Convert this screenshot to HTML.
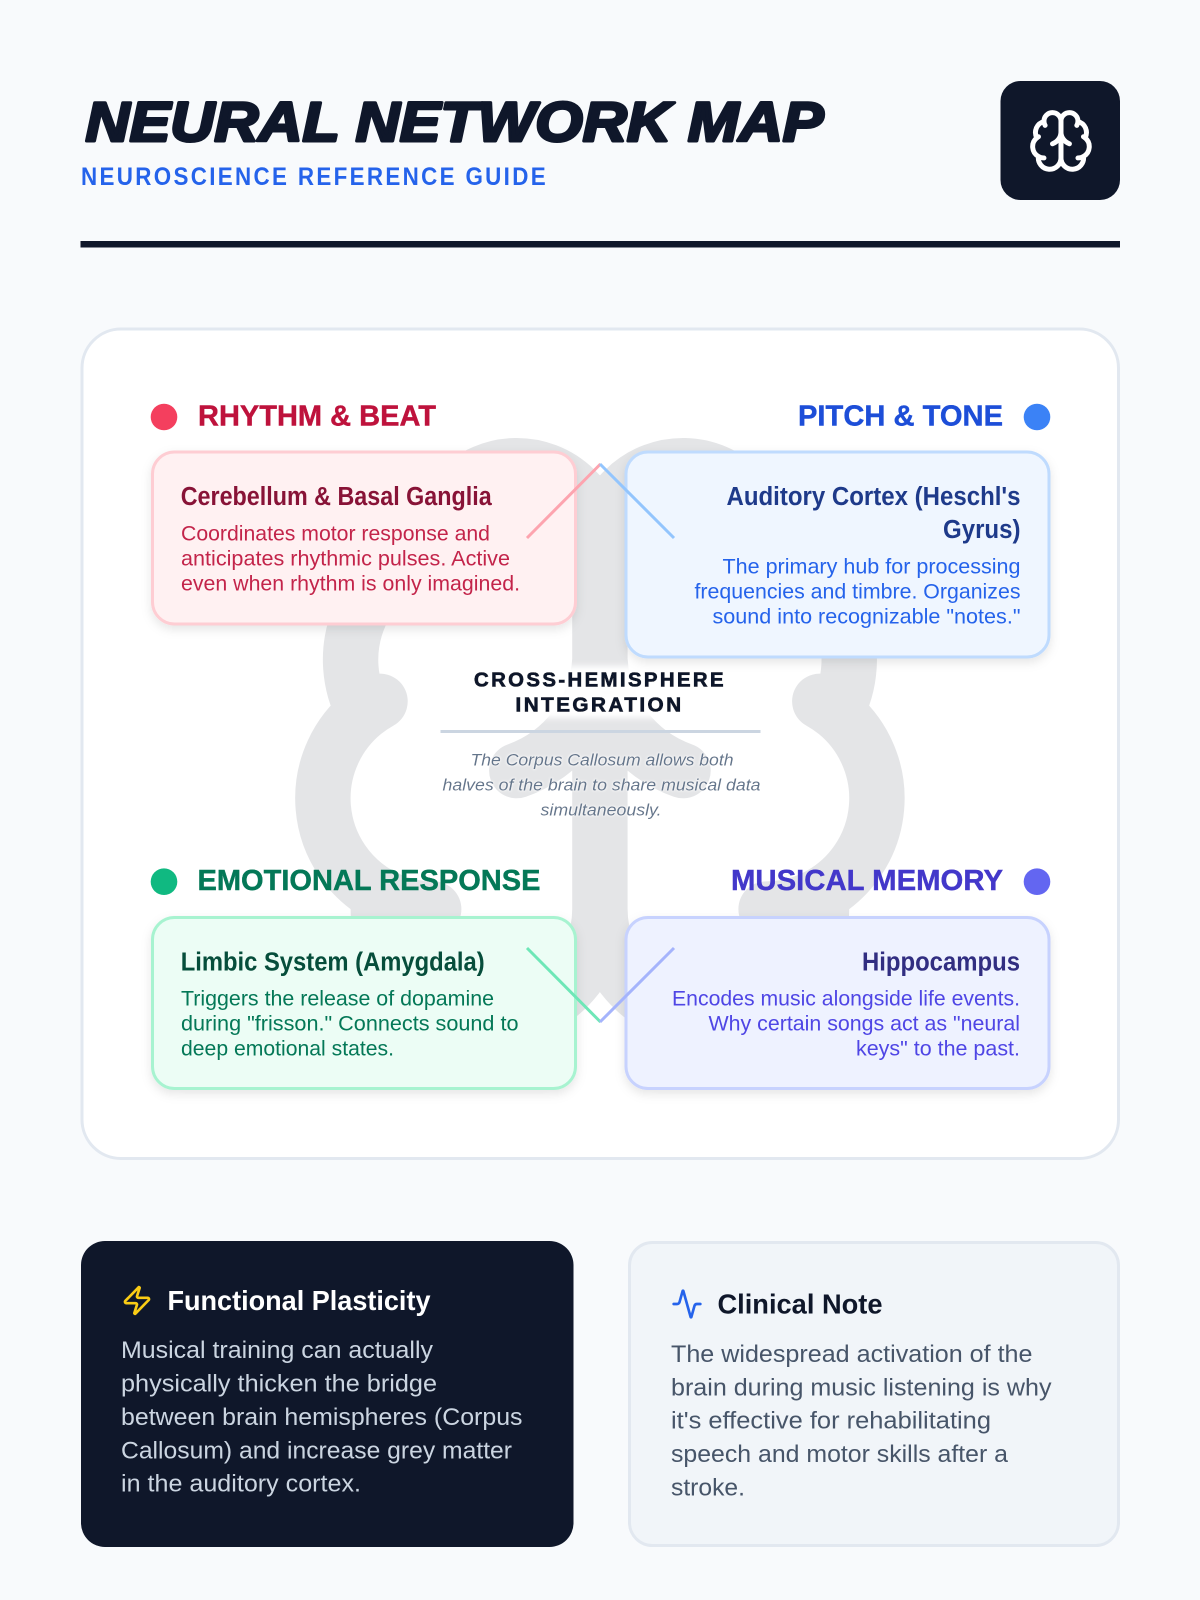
<!DOCTYPE html>
<html><head><meta charset="utf-8"><style>
html,body{margin:0;padding:0;background:#f8fafc;width:1200px;height:1600px;overflow:hidden}
svg{display:block}
text{font-family:"Liberation Sans",sans-serif;white-space:pre}
.h{font-weight:700;font-size:29px;stroke-width:.4px}
.t{font-weight:700;font-size:25.5px}
.b{font-size:21.5px}
.c{font-weight:700;font-size:20.5px;letter-spacing:2.4px;fill:#0f172a;stroke:#0f172a;stroke-width:.8px}
.i{font-style:italic;font-size:17px;fill:#64748b}
.n{font-size:24.5px}
.ln{font-weight:700;font-size:27.5px}
</style></head><body>
<svg xmlns="http://www.w3.org/2000/svg" width="1200" height="1600" viewBox="0 0 1200 1600">
<defs>
<filter id="s" x="-10%" y="-10%" width="120%" height="125%"><feDropShadow dx="0" dy="4" stdDeviation="5" flood-color="#000" flood-opacity=".1"/></filter>
<filter id="halo" x="-10%" y="-60%" width="120%" height="220%">
<feMorphology in="SourceAlpha" operator="dilate" radius="4" result="d"/>
<feGaussianBlur in="d" stdDeviation="4" result="b"/>
<feFlood flood-color="#fff"/><feComposite in2="b" operator="in" result="w"/>
<feMerge><feMergeNode in="w"/><feMergeNode in="w"/><feMergeNode in="SourceGraphic"/></feMerge>
</filter>
<filter id="halo2" x="-5%" y="-40%" width="110%" height="180%">
<feMorphology in="SourceAlpha" operator="dilate" radius=".6" result="d"/>
<feGaussianBlur in="d" stdDeviation="1" result="b"/>
<feFlood flood-color="#fff" flood-opacity=".8"/><feComposite in2="b" operator="in" result="w"/>
<feMerge><feMergeNode in="w"/><feMergeNode in="SourceGraphic"/></feMerge>
</filter>
</defs>
<rect width="1200" height="1600" fill="#f8fafc"/>

<!-- header -->
<text x="85.5" y="140.8" textLength="738" lengthAdjust="spacingAndGlyphs" font-size="56" font-weight="700" font-style="italic" fill="#0f172a" stroke="#0f172a" stroke-width="3" stroke-linejoin="round">NEURAL NETWORK MAP</text>
<text x="81" y="185" textLength="467" lengthAdjust="spacingAndGlyphs" font-size="25" font-weight="700" letter-spacing="2.6" fill="#2563eb">NEUROSCIENCE REFERENCE GUIDE</text>
<rect x="1000.5" y="81" width="119.5" height="119" rx="20" fill="#0f172a"/>
<g transform="translate(1027 107) scale(2.83)" fill="none" stroke="#fff" stroke-width="1.75" stroke-linecap="round" stroke-linejoin="round">
<path d="M12 5a3 3 0 1 0-5.997.125 4 4 0 0 0-2.526 5.77 4 4 0 0 0 .556 6.588A4 4 0 1 0 12 18Z"/><path d="M12 5a3 3 0 1 1 5.997.125 4 4 0 0 1 2.526 5.77 4 4 0 0 1-.556 6.588A4 4 0 1 1 12 18Z"/><path d="M15 13a4.5 4.5 0 0 1-3-4 4.5 4.5 0 0 1-3 4"/><path d="M17.599 6.5a3 3 0 0 0 .399-1.375"/><path d="M6.003 5.125A3 3 0 0 0 6.401 6.5"/><path d="M3.477 10.896a4 4 0 0 1 .585-.396"/><path d="M19.938 10.5a4 4 0 0 1 .585.396"/><path d="M6 18a4 4 0 0 1-1.967-.516"/><path d="M19.967 17.484A4 4 0 0 1 18 18"/>
</g>
<rect x="80.5" y="241" width="1039.5" height="6.5" fill="#0f172a"/>

<!-- main card -->
<rect x="82" y="329" width="1036.5" height="829.5" rx="39" fill="#fff" stroke="#e2e8f0" stroke-width="3"/>

<!-- background brain -->
<g transform="translate(267.5 410.5) scale(27.7)" opacity=".115" fill="none" stroke="#0f172a" stroke-width="2" stroke-linecap="round" stroke-linejoin="round">
<path d="M12 5a3 3 0 1 0-5.997.125 4 4 0 0 0-2.526 5.77 4 4 0 0 0 .556 6.588A4 4 0 1 0 12 18Z M12 5a3 3 0 1 1 5.997.125 4 4 0 0 1 2.526 5.77 4 4 0 0 1-.556 6.588A4 4 0 1 1 12 18Z M15 13a4.5 4.5 0 0 1-3-4 4.5 4.5 0 0 1-3 4 M17.599 6.5a3 3 0 0 0 .399-1.375 M6.003 5.125A3 3 0 0 0 6.401 6.5 M3.477 10.896a4 4 0 0 1 .585-.396 M19.938 10.5a4 4 0 0 1 .585.396 M6 18a4 4 0 0 1-1.967-.516 M19.967 17.484A4 4 0 0 1 18 18"/>
</g>

<!-- center text -->
<g filter="url(#halo)">
<text class="c" x="474" y="686.5" textLength="252" lengthAdjust="spacingAndGlyphs">CROSS-HEMISPHERE</text>
<text class="c" x="515.5" y="711.5" textLength="168" lengthAdjust="spacingAndGlyphs">INTEGRATION</text>
</g>
<rect x="440.5" y="730" width="320" height="3" fill="#cbd5e1"/>
<g filter="url(#halo2)">
<text class="i" x="470.5" y="765.5" textLength="263" lengthAdjust="spacingAndGlyphs">The Corpus Callosum allows both</text>
<text class="i" x="442.5" y="790.5" textLength="318" lengthAdjust="spacingAndGlyphs">halves of the brain to share musical data</text>
<text class="i" x="540.5" y="815.5" textLength="121" lengthAdjust="spacingAndGlyphs">simultaneously.</text>
</g>

<!-- headings -->
<circle cx="164" cy="417" r="13.3" fill="#f43f5e"/>
<text class="h" x="198" y="425.5" textLength="238" lengthAdjust="spacingAndGlyphs" fill="#be123c" stroke="#be123c">RHYTHM &amp; BEAT</text>
<circle cx="1037" cy="417" r="13.3" fill="#3b82f6"/>
<text class="h" x="798" y="425.5" textLength="205" lengthAdjust="spacingAndGlyphs" fill="#1d4ed8" stroke="#1d4ed8">PITCH &amp; TONE</text>
<circle cx="164" cy="881.7" r="13.3" fill="#10b981"/>
<text class="h" x="197.5" y="890" textLength="343" lengthAdjust="spacingAndGlyphs" fill="#047857" stroke="#047857">EMOTIONAL RESPONSE</text>
<circle cx="1037" cy="881.7" r="13.3" fill="#6366f1"/>
<text class="h" x="731" y="890" textLength="272" lengthAdjust="spacingAndGlyphs" fill="#4338ca" stroke="#4338ca">MUSICAL MEMORY</text>

<!-- cards -->
<rect x="152.5" y="452" width="423" height="172" rx="22" fill="#fff1f2" stroke="#fecdd3" stroke-width="3" filter="url(#s)"/>
<text class="t" x="180.7" y="505" textLength="311" lengthAdjust="spacingAndGlyphs" fill="#881337">Cerebellum &amp; Basal Ganglia</text>
<g fill="#be123c" fill-opacity=".92">
<text class="b" x="181" y="540.5" textLength="309" lengthAdjust="spacingAndGlyphs">Coordinates motor response and</text>
<text class="b" x="181" y="565.5" textLength="329" lengthAdjust="spacingAndGlyphs">anticipates rhythmic pulses. Active</text>
<text class="b" x="181" y="590.5" textLength="339" lengthAdjust="spacingAndGlyphs">even when rhythm is only imagined.</text>
</g>

<rect x="626" y="452" width="423" height="205" rx="22" fill="#eff6ff" stroke="#bfdbfe" stroke-width="3" filter="url(#s)"/>
<text class="t" x="726.5" y="505" textLength="294" lengthAdjust="spacingAndGlyphs" fill="#1e3a8a">Auditory Cortex (Heschl's</text>
<text class="t" x="943" y="538" textLength="77.5" lengthAdjust="spacingAndGlyphs" fill="#1e3a8a">Gyrus)</text>
<g fill="#2563eb">
<text class="b" x="722.5" y="573.5" textLength="298" lengthAdjust="spacingAndGlyphs">The primary hub for processing</text>
<text class="b" x="694.5" y="598.5" textLength="326" lengthAdjust="spacingAndGlyphs">frequencies and timbre. Organizes</text>
<text class="b" x="712.5" y="623.5" textLength="308" lengthAdjust="spacingAndGlyphs">sound into recognizable "notes."</text>
</g>

<rect x="152.5" y="917.5" width="423" height="171" rx="22" fill="#ecfdf5" stroke="#a7f3d0" stroke-width="3" filter="url(#s)"/>
<text class="t" x="180.7" y="970.7" textLength="304" lengthAdjust="spacingAndGlyphs" fill="#064e3b">Limbic System (Amygdala)</text>
<g fill="#047857">
<text class="b" x="181" y="1005.7" textLength="313" lengthAdjust="spacingAndGlyphs">Triggers the release of dopamine</text>
<text class="b" x="181" y="1030.7" textLength="337.5" lengthAdjust="spacingAndGlyphs">during "frisson." Connects sound to</text>
<text class="b" x="181" y="1055.7" textLength="213" lengthAdjust="spacingAndGlyphs">deep emotional states.</text>
</g>

<rect x="626" y="917.5" width="423" height="171" rx="22" fill="#eef2ff" stroke="#c7d2fe" stroke-width="3" filter="url(#s)"/>
<text class="t" x="862" y="970.7" textLength="158" lengthAdjust="spacingAndGlyphs" fill="#312e81">Hippocampus</text>
<g fill="#4f46e5">
<text class="b" x="672" y="1005.7" textLength="348" lengthAdjust="spacingAndGlyphs">Encodes music alongside life events.</text>
<text class="b" x="708.5" y="1030.7" textLength="311.5" lengthAdjust="spacingAndGlyphs">Why certain songs act as "neural</text>
<text class="b" x="856" y="1055.7" textLength="164" lengthAdjust="spacingAndGlyphs">keys" to the past.</text>
</g>

<!-- connectors -->
<g fill="none" stroke-width="3">
<line x1="527" y1="538" x2="600.5" y2="464" stroke="#fda4af"/>
<line x1="600" y1="464" x2="674" y2="538" stroke="#93c5fd"/>
<line x1="527" y1="948" x2="600.5" y2="1022" stroke="#6ee7b7"/>
<line x1="600" y1="1022" x2="674" y2="948" stroke="#a5b4fc"/>
</g>

<!-- bottom cards -->
<rect x="81" y="1241" width="492.5" height="306" rx="24" fill="#0f172a"/>
<g transform="translate(121 1284.5) scale(1.333)" fill="none" stroke="#facc15" stroke-width="2" stroke-linecap="round" stroke-linejoin="round">
<path d="M4 14a1 1 0 0 1-.78-1.63l9.9-10.2a.5.5 0 0 1 .86.46l-1.92 6.02A1 1 0 0 0 13 10h7a1 1 0 0 1 .78 1.63l-9.9 10.2a.5.5 0 0 1-.86-.46l1.92-6.02A1 1 0 0 0 11 14z"/>
</g>
<text class="ln" x="167.5" y="1310" textLength="263" lengthAdjust="spacingAndGlyphs" fill="#fff">Functional Plasticity</text>
<g fill="#cbd5e1">
<text class="n" x="121" y="1358" textLength="312" lengthAdjust="spacingAndGlyphs">Musical training can actually</text>
<text class="n" x="121" y="1391.5" textLength="316" lengthAdjust="spacingAndGlyphs">physically thicken the bridge</text>
<text class="n" x="121" y="1425" textLength="401.5" lengthAdjust="spacingAndGlyphs">between brain hemispheres (Corpus</text>
<text class="n" x="121" y="1458.3" textLength="391" lengthAdjust="spacingAndGlyphs">Callosum) and increase grey matter</text>
<text class="n" x="121" y="1491.7" textLength="240" lengthAdjust="spacingAndGlyphs">in the auditory cortex.</text>
</g>

<rect x="629.5" y="1242.5" width="489" height="303" rx="23" fill="#f1f5f9" stroke="#e2e8f0" stroke-width="3"/>
<g transform="translate(671 1288) scale(1.333)" fill="none" stroke="#2563eb" stroke-width="2" stroke-linecap="round" stroke-linejoin="round">
<path d="M22 12h-2.48a2 2 0 0 0-1.93 1.46l-2.35 8.36a.25.25 0 0 1-.48 0L9.24 2.18a.25.25 0 0 0-.48 0l-2.35 8.36A2 2 0 0 1 4.49 12H2"/>
</g>
<text class="ln" x="717.5" y="1313.5" textLength="165" lengthAdjust="spacingAndGlyphs" fill="#0f172a">Clinical Note</text>
<g fill="#475569">
<text class="n" x="671" y="1362" textLength="361.5" lengthAdjust="spacingAndGlyphs">The widespread activation of the</text>
<text class="n" x="671" y="1395.3" textLength="380.5" lengthAdjust="spacingAndGlyphs">brain during music listening is why</text>
<text class="n" x="671" y="1428.7" textLength="320" lengthAdjust="spacingAndGlyphs">it's effective for rehabilitating</text>
<text class="n" x="671" y="1462" textLength="337" lengthAdjust="spacingAndGlyphs">speech and motor skills after a</text>
<text class="n" x="671" y="1495.3" textLength="74" lengthAdjust="spacingAndGlyphs">stroke.</text>
</g>
</svg>
</body></html>
